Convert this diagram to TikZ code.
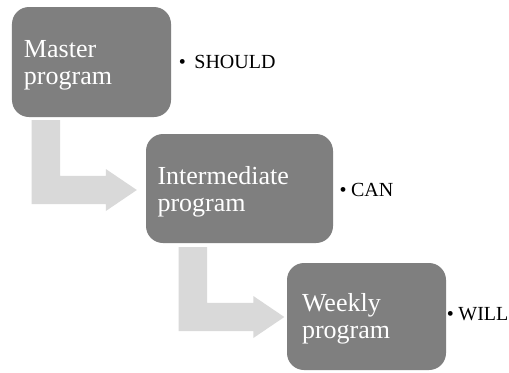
\documentclass[tikz,border=0pt]{standalone}
\usepackage{fontspec}
\setmainfont{Liberation Serif}
\usetikzlibrary{calc}
\definecolor{boxgray}{RGB}{127,127,127}
\definecolor{flowgray}{RGB}{217,217,217}
\tikzset{
  stage/.style={draw=none, fill=boxgray, rounded corners=17bp, inner sep=0pt},
  stagetext/.style={anchor=west, inner sep=0pt, align=left, text=white,
    font=\fontsize{26bp}{27bp}\selectfont},
  tag/.style={anchor=west, inner sep=0pt, text=black,
    font=\fontsize{20bp}{24bp}\selectfont},
  flow/.style={fill=flowgray, draw=none},
}
% bent block arrow: #1 = top centre of the shaft, #2 = tip, #3 = name of the bend
\newcommand\bentflow[3]{%
  \coordinate (#3) at (#1 |- #2);
  \fill[flow] ($(#1)+(-14.2,0)$) -- ($(#1)+(14.2,0)$)
    -- ($(#3)+(14.2,-14.2)$) -- ($(#2)+(-31,-14.2)$) -- ($(#2)+(-31,-21)$)
    -- (#2) -- ($(#2)+(-31,21)$) -- ($(#2)+(-31,14.2)$)
    -- ($(#3)+(-14.2,14.2)$) -- cycle;}
\begin{document}
\begin{tikzpicture}[x=1bp, y=-1bp]
  \fill[white] (0,0) rectangle (509,372);
  \useasboundingbox (0,0) rectangle (509,372);

  % stages
  \node[stage, minimum width=159bp, minimum height=110bp] (b1) at (91.5,62) {};
  \node[stage, minimum width=187bp, minimum height=109bp] (b2) at (239.5,188.5) {};
  \node[stage, minimum width=159bp, minimum height=107bp] (b3) at (366.5,316.5) {};

  \node[stagetext] (t1) at ([xshift=12bp,yshift=-3bp]b1.west) {Master\\program};
  \node[stagetext] (t2) at ([xshift=11.5bp,yshift=-3bp]b2.west) {Intermediate\\program};
  \node[stagetext] (t3) at ([xshift=15bp,yshift=-2.5bp]b3.west) {Weekly\\program};

  % side notes
  \node[tag] (l1) at ([xshift=7.5bp]b1.east) {•\hspace{8.5bp}SHOULD};
  \node[tag] (l2) at ([xshift=6.2bp,yshift=-1.5bp]b2.east) {•\hspace{4.5bp}CAN};
  \node[tag] (l3) at ([xshift=0.5bp,yshift=2.5bp]b3.east) {•\hspace{4.5bp}WILL};

  % flow arrows between stages
  \coordinate (s1) at ([xshift=34bp,yshift=-3bp]b1.south west);
  \coordinate (e1) at ([xshift=-9bp,yshift=-1.5bp]b2.west);
  \bentflow{s1}{e1}{k1}
  \coordinate (s2) at ([xshift=47bp,yshift=-4bp]b2.south west);
  \coordinate (e2) at ([xshift=-2.5bp,yshift=-0.5bp]b3.west);
  \bentflow{s2}{e2}{k2}
\end{tikzpicture}
\end{document}
